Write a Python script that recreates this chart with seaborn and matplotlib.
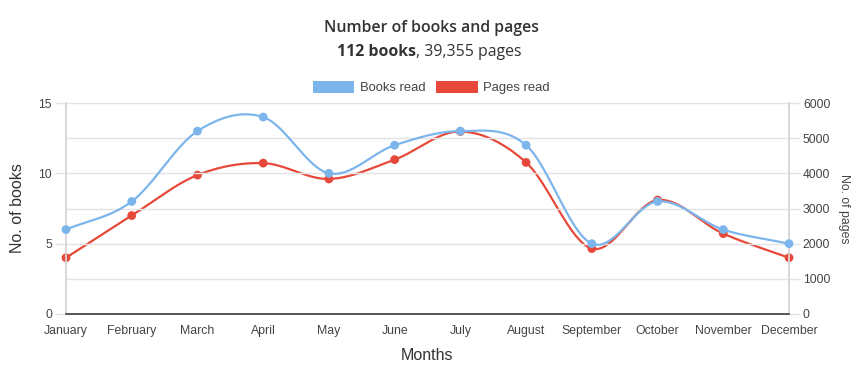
import seaborn as sns
import matplotlib.pyplot as plt
import numpy as np
import pandas as pd
from matplotlib.patches import Patch
from matplotlib.ticker import MultipleLocator

sns.set_theme(style='white')
plt.rcParams['font.family'] = ['Liberation Sans', 'DejaVu Sans']

months = ['January', 'February', 'March', 'April', 'May', 'June', 'July',
          'August', 'September', 'October', 'November', 'December']
books = [6, 8, 13, 14, 10, 12, 13, 12, 5, 8, 6, 5]
pages = [1600, 2800, 3950, 4290, 3840, 4390, 5190, 4310, 1860, 3240, 2285, 1600]

blue = '#7cb5ec'
red = '#e6493a'
grid_c = '#e3e3e3'
txt_c = '#444444'


def smooth(y, n=40):
    # cubic hermite curve through the points (rendering only)
    y = np.asarray(y, float)
    m = np.gradient(y)
    xs, ys = [], []
    for i in range(len(y) - 1):
        t = np.linspace(0, 1, n, endpoint=False)
        h00 = 2*t**3 - 3*t**2 + 1
        h10 = t**3 - 2*t**2 + t
        h01 = -2*t**3 + 3*t**2
        h11 = t**3 - t**2
        xs.append(i + t)
        ys.append(h00*y[i] + h10*m[i] + h01*y[i+1] + h11*m[i+1])
    xs.append([len(y) - 1])
    ys.append([y[-1]])
    return np.concatenate(xs), np.concatenate(ys)


fig = plt.figure(figsize=(8.67, 3.76), dpi=100)
ax = fig.add_axes([66/867, 62/376, 723/867, 211/376])
ax2 = ax.twinx()

x = np.arange(len(months))

# pages on the right axis
px, py = smooth(pages)
sns.lineplot(x=px, y=py, ax=ax2, color=red, lw=1.6, estimator=None, sort=False)
sns.scatterplot(x=x, y=pages, ax=ax2, color=red, s=40, edgecolor='none',
                clip_on=False, zorder=5)

# books on the left axis, drawn above
bx, by = smooth(books)
sns.lineplot(x=bx, y=by, ax=ax, color=blue, lw=1.6, estimator=None, sort=False)
sns.scatterplot(x=x, y=books, ax=ax, color=blue, s=40, edgecolor='none',
                clip_on=False, zorder=5)

ax.set_zorder(ax2.get_zorder() + 1)
ax.patch.set_visible(False)

ax.set_xlim(0, 11)
ax.set_ylim(0, 15)
ax2.set_ylim(0, 6000)
ax.set_xticks(x)
ax.set_xticklabels(months)
ax.yaxis.set_major_locator(MultipleLocator(5))
ax.yaxis.set_minor_locator(MultipleLocator(2.5))
ax2.yaxis.set_major_locator(MultipleLocator(1000))

ax.grid(True, axis='y', which='both', color=grid_c, lw=1)
ax.set_axisbelow(True)
ax2.grid(False)

ax.tick_params(axis='x', length=5, width=1, color='#cccccc', pad=3,
               labelsize=8.8, labelcolor=txt_c)
ax.tick_params(axis='y', which='major', length=8, width=1, color=grid_c, pad=2,
               labelsize=8.8, labelcolor=txt_c, left=True)
ax.tick_params(axis='y', which='minor', length=0)
ax2.tick_params(axis='y', length=8, width=1, color=grid_c, pad=2,
                labelsize=8.8, labelcolor=txt_c, right=True)

for a in (ax, ax2):
    a.spines['top'].set_visible(False)
    a.spines['left'].set_color('#d8d8d8')
    a.spines['right'].set_color('#d8d8d8')
    a.spines['bottom'].set_color('#555555')
    a.set_xlabel('')
    a.set_ylabel('')

ax.set_xlabel('Months', fontsize=11.5, color='#333333', labelpad=8)
ax.set_ylabel('No. of books', fontsize=11.5, color='#333333', labelpad=10)
ax2.set_ylabel('No. of pages', fontsize=8.8, color=txt_c, rotation=270,
               labelpad=14)

# titles
fig.text(0.498, 1 - 28/376, 'Number of books and pages', ha='center', va='center',
         fontsize=11.4, color='#333333', fontweight='semibold',
         family=['Open Sans', 'DejaVu Sans'])
fig.text(416/867, 1 - 52/376, '112 books', ha='right', va='center',
         fontsize=11.4, color='#333333', fontweight='bold',
         family=['Open Sans', 'DejaVu Sans'])
fig.text(416/867, 1 - 52/376, ', 39,355 pages', ha='left', va='center',
         fontsize=11.4, color='#333333',
         family=['Open Sans', 'DejaVu Sans'])

handles = [Patch(facecolor=blue, edgecolor='none', label='Books read'),
           Patch(facecolor=red, edgecolor='none', label='Pages read')]
fig.legend(handles=handles, loc='center', bbox_to_anchor=(431/867, 1 - 87.5/376),
           ncol=2, frameon=False, fontsize=9.4, labelcolor=txt_c,
           handlelength=3.2, handleheight=1.0, handletextpad=0.4,
           columnspacing=0.8)

fig.savefig('out.png', dpi=100)
